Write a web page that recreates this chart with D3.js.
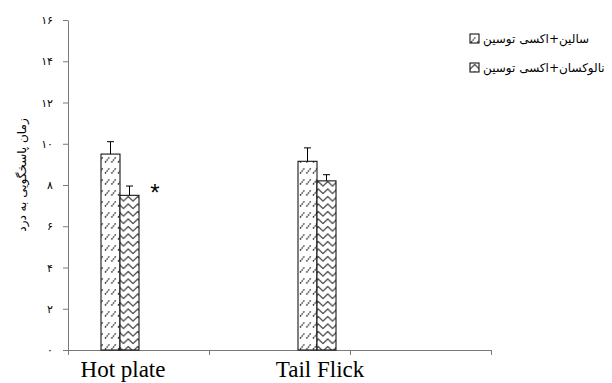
<!DOCTYPE html>
<html>
<head>
<meta charset="utf-8">
<script src="https://cdn.jsdelivr.net/npm/d3@7"></script>
<style>
  body { margin: 0; background: #fff; }
  svg { display: block; }
</style>
</head>
<body>
<script>
// data
const categories = ["Hot plate", "Tail Flick"];
const seriesNames = ["سالین+اکسی توسین", "نالوکسان+اکسی توسین"];
const salineMeans = [9.5, 9.15];
const salineErr = [0.6, 0.65];
const naloxMeans = [7.5, 8.2];
const naloxErr = [0.45, 0.3];
const yTicks = [0, 2, 4, 6, 8, 10, 12, 14, 16];
const yLabel = "زمان پاسخگویی به درد";

const W = 612, H = 383;
const faDigits = "۰۱۲۳۴۵۶۷۸۹";
const toFa = n => String(n).replace(/\d/g, c => faDigits[+c]);

const svg = d3.select("body").append("svg")
    .attr("width", W)
    .attr("height", H);

const defs = svg.append("defs");

// sparse dashed diagonals
const p1 = defs.append("pattern")
    .attr("id", "pSaline")
    .attr("patternUnits", "userSpaceOnUse")
    .attr("width", 6.5).attr("height", 11);
p1.append("rect").attr("width", 6.5).attr("height", 11).attr("fill", "#fff");
p1.append("path")
    .attr("d", "M1,8.5 L5.5,3")
    .attr("stroke", "#222")
    .attr("stroke-width", 1.3)
    .attr("stroke-dasharray", "1.6,0.9");

// zigzag
const p2 = defs.append("pattern")
    .attr("id", "pNalox")
    .attr("patternUnits", "userSpaceOnUse")
    .attr("width", 9.5).attr("height", 7.5);
p2.append("rect").attr("width", 9.5).attr("height", 7.5).attr("fill", "#fff");
p2.append("path")
    .attr("d", "M-0.5,6.5 L4.75,1.5 L10,6.5")
    .attr("fill", "none")
    .attr("stroke", "#222")
    .attr("stroke-width", 1);

const fills = ["url(#pSaline)", "url(#pNalox)"];

const y = d3.scaleLinear().domain([0, 16]).range([350, 20]);
// group centres
const xc = d3.scaleLinear().domain([0, 1]).range([120, 317]);
const inner = d3.scaleBand().domain([0, 1]).range([-19, 19]);
// category slots along the x axis
const xSlots = d3.scaleLinear().domain([0, 3]).range([68, 491]);

// axes
const yAxis = svg.append("g")
    .attr("transform", "translate(68,0)")
    .call(d3.axisLeft(y).tickValues(yTicks).tickFormat(toFa)
        .tickSize(5).tickSizeOuter(0).tickPadding(10));
yAxis.selectAll("text")
    .attr("font-family", "DejaVu Sans")
    .attr("font-size", 11)
    .attr("fill", "#000");

const xAxis = svg.append("g")
    .attr("transform", "translate(0,350)")
    .call(d3.axisBottom(xSlots).tickValues([0, 1, 2, 3]).tickFormat("")
        .tickSize(5).tickSizeOuter(0));

svg.selectAll(".domain, .tick line").attr("stroke", "#7a7a7a");

// category labels
svg.selectAll(".cat")
    .data(categories)
    .enter()
    .append("text")
    .attr("class", "cat")
    .attr("x", (d, i) => xc(i) + 3)
    .attr("y", 377)
    .attr("text-anchor", "middle")
    .attr("font-family", "Liberation Serif")
    .attr("font-size", 23)
    .text(d => d);

// bars
const rows = [];
categories.forEach((c, i) => {
    rows.push({ cat: i, s: 0, v: salineMeans[i], e: salineErr[i] });
    rows.push({ cat: i, s: 1, v: naloxMeans[i], e: naloxErr[i] });
});

const bw = inner.bandwidth();

svg.selectAll(".err")
    .data(rows)
    .enter()
    .append("path")
    .attr("class", "err")
    .attr("d", d => {
        const cx = xc(d.cat) + inner(d.s) + bw / 2;
        const t = y(d.v + d.e);
        return `M${cx},${y(d.v)}V${t}M${cx - 3.5},${t}H${cx + 3.5}`;
    })
    .attr("stroke", "#000")
    .attr("stroke-width", 1)
    .attr("fill", "none");

svg.selectAll(".bar")
    .data(rows)
    .enter()
    .append("rect")
    .attr("class", "bar")
    .attr("x", d => xc(d.cat) + inner(d.s))
    .attr("y", d => y(d.v))
    .attr("width", bw)
    .attr("height", d => y(0) - y(d.v))
    .attr("fill", d => fills[d.s])
    .attr("stroke", "#000")
    .attr("stroke-width", 1);

// significance mark
svg.append("text")
    .attr("x", xc(0) + inner(1) + bw + 16)
    .attr("y", y(naloxMeans[0] + naloxErr[0]) + 15)
    .attr("text-anchor", "middle")
    .attr("font-family", "Liberation Sans")
    .attr("font-size", 24)
    .text("*");

// y label
svg.append("text")
    .attr("transform", "translate(26,175) rotate(-90)")
    .attr("text-anchor", "middle")
    .attr("font-family", "DejaVu Sans")
    .attr("font-size", 12)
    .text(yLabel);

// legend
const leg = svg.selectAll(".leg")
    .data(seriesNames)
    .enter()
    .append("g")
    .attr("class", "leg")
    .attr("transform", (d, i) => `translate(470,${34 + i * 29})`);

leg.append("rect")
    .attr("width", 9)
    .attr("height", 9)
    .attr("fill", (d, i) => fills[i])
    .attr("stroke", "#000")
    .attr("stroke-width", 1);

leg.append("text")
    .attr("x", 13)
    .attr("y", 9)
    .attr("font-family", "DejaVu Sans")
    .attr("font-size", 12)
    .text(d => d);
</script>
</body>
</html>
